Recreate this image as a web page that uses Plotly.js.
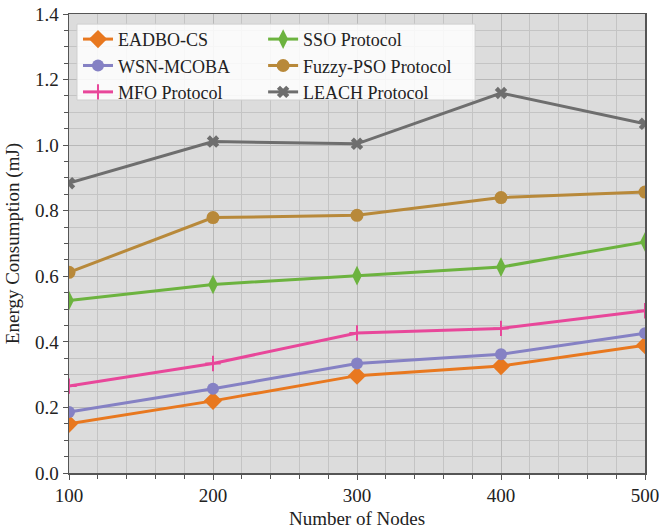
<!DOCTYPE html>
<html>
<head>
<meta charset="utf-8">
<script src="https://cdn.plot.ly/plotly-3.0.1.min.js"></script>
<style>html,body{margin:0;padding:0;background:#fff;}#chart{width:659px;height:529px;}</style>
</head>
<body>
<div id="chart"></div>
<script>
const nodes = [100, 200, 300, 400, 500];
const eadboCs = [0.150, 0.220, 0.297, 0.326, 0.390];
const wsnMcoba = [0.186, 0.257, 0.334, 0.362, 0.426];
const mfoProtocol = [0.265, 0.334, 0.427, 0.441, 0.495];
const ssoProtocol = [0.526, 0.575, 0.602, 0.628, 0.705];
const fuzzyPsoProtocol = [0.612, 0.779, 0.786, 0.840, 0.857];
const leachProtocol = [0.884, 1.011, 1.004, 1.159, 1.065];
const seriesNames = ["EADBO-CS", "WSN-MCOBA", "MFO Protocol", "SSO Protocol", "Fuzzy-PSO Protocol", "LEACH Protocol"];

const FONT = "Liberation Serif";

function mk(name, y, color, symbol, size, legend, extra) {
  const m = {color: color, symbol: symbol, size: size};
  if (extra) Object.assign(m, extra);
  return {
    x: nodes, y: y, name: name, type: "scatter", mode: "lines+markers",
    line: {color: color, width: 3},
    marker: m,
    legend: legend
  };
}

const traces = [
  mk(seriesNames[0], eadboCs, "#E8781F", "diamond", 14, "legend"),
  mk(seriesNames[1], wsnMcoba, "#8581C4", "circle", 12, "legend"),
  mk(seriesNames[2], mfoProtocol, "#E8479A", "cross-thin", 11, "legend", {line: {color: "#E8479A", width: 2}}),
  mk(seriesNames[3], ssoProtocol, "#6CB33F", "diamond-tall", 14, "legend2"),
  mk(seriesNames[4], fuzzyPsoProtocol, "#B8893A", "circle", 13, "legend2"),
  mk(seriesNames[5], leachProtocol, "#6E6E6E", "x", 11, "legend2")
];

function axisBase() {
  return {
    showline: true, linecolor: "#555555", linewidth: 1.5, mirror: true,
    ticks: "outside", ticklen: 5, tickwidth: 1, tickcolor: "#555555",
    showgrid: true, gridcolor: "#b8b8b8", gridwidth: 1,
    zeroline: false, ticklabeloverflow: "allow",
    tickfont: {family: FONT, size: 19, color: "#222222"}
  };
}

const layout = {
  width: 659, height: 529,
  margin: {l: 69, r: 14, t: 14, b: 56},
  paper_bgcolor: "#ffffff",
  plot_bgcolor: "#dcdcdc",
  font: {family: FONT, color: "#222222", size: 18},
  showlegend: true,
  xaxis: Object.assign(axisBase(), {
    range: [100, 500], dtick: 100, tick0: 100,
    minor: {dtick: 20, ticks: "outside", ticklen: 4, tickcolor: "#555555", showgrid: true, gridcolor: "#c4c4c4", gridwidth: 1},
    title: {text: "Number of Nodes", font: {family: FONT, size: 19, color: "#222222"}, standoff: 6}
  }),
  yaxis: Object.assign(axisBase(), {
    range: [0, 1.4], dtick: 0.2, tick0: 0, tickformat: ".1f",
    minor: {dtick: 0.05, ticks: "outside", ticklen: 4, tickcolor: "#555555", showgrid: true, gridcolor: "#c4c4c4", gridwidth: 1},
    title: {text: "Energy Consumption (mJ)", font: {family: FONT, size: 19, color: "#222222"}, standoff: 10}
  }),
  legend: {
    x: 0.0156, y: 0.985, xanchor: "left", yanchor: "top",
    bgcolor: "rgba(0,0,0,0)", borderwidth: 0,
    font: {family: FONT, size: 18, color: "#222222"},
    itemwidth: 30
  },
  legend2: {
    x: 0.337, y: 0.985, xanchor: "left", yanchor: "top",
    bgcolor: "rgba(0,0,0,0)", borderwidth: 0,
    font: {family: FONT, size: 18, color: "#222222"},
    itemwidth: 30
  },
  shapes: [{
    type: "rect", xref: "paper", yref: "paper", layer: "above",
    x0: 0.0139, x1: 0.705, y0: 0.8126, y1: 0.978,
    fillcolor: "rgba(255,255,255,0.85)",
    line: {color: "#cfcfcf", width: 1}
  }]
};

Plotly.newPlot("chart", traces, layout, {displayModeBar: false, staticPlot: true});
</script>
</body>
</html>
